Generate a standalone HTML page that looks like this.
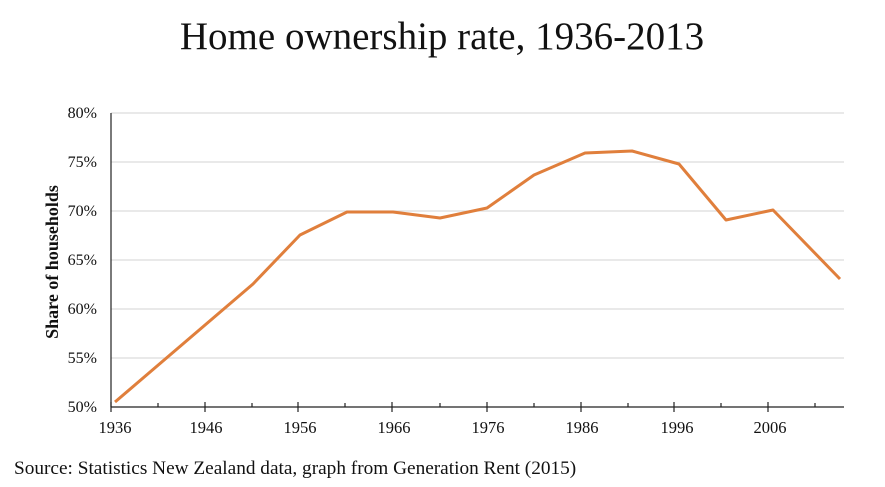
<!DOCTYPE html>
<html><head><meta charset="utf-8"><style>
body{margin:0;background:#fff;}
svg{display:block;font-family:"Liberation Serif",serif;}
</style></head><body>
<svg width="885" height="487" viewBox="0 0 885 487">
<text x="442" y="49" font-size="39" text-anchor="middle" fill="#111">Home ownership rate, 1936-2013</text>
<g stroke="#dcdcdc" stroke-width="1.3">
<line x1="111" x2="844" y1="113" y2="113"/>
<line x1="111" x2="844" y1="162" y2="162"/>
<line x1="111" x2="844" y1="211" y2="211"/>
<line x1="111" x2="844" y1="260" y2="260"/>
<line x1="111" x2="844" y1="309" y2="309"/>
<line x1="111" x2="844" y1="358" y2="358"/>
</g>
<g stroke="#222" stroke-width="1.2">
<line x1="111" x2="111" y1="113" y2="407"/>
<line x1="111" x2="844" y1="407" y2="407"/>
<line x1="111" x2="111" y1="402" y2="412"/>
<line x1="205" x2="205" y1="402" y2="412"/>
<line x1="298" x2="298" y1="402" y2="412"/>
<line x1="392" x2="392" y1="402" y2="412"/>
<line x1="487" x2="487" y1="402" y2="412"/>
<line x1="581" x2="581" y1="402" y2="412"/>
<line x1="674" x2="674" y1="402" y2="412"/>
<line x1="768" x2="768" y1="402" y2="412"/>
<line x1="158" x2="158" y1="403" y2="407"/>
<line x1="252" x2="252" y1="403" y2="407"/>
<line x1="345" x2="345" y1="403" y2="407"/>
<line x1="440" x2="440" y1="403" y2="407"/>
<line x1="534" x2="534" y1="403" y2="407"/>
<line x1="628" x2="628" y1="403" y2="407"/>
<line x1="721" x2="721" y1="403" y2="407"/>
<line x1="815" x2="815" y1="403" y2="407"/>
</g>
<g font-size="16" fill="#111" text-anchor="end">
<text x="97" y="118">80%</text>
<text x="97" y="167">75%</text>
<text x="97" y="216">70%</text>
<text x="97" y="265">65%</text>
<text x="97" y="314">60%</text>
<text x="97" y="363">55%</text>
<text x="97" y="412">50%</text>
</g>
<g font-size="16.5" fill="#111" text-anchor="middle">
<text x="115" y="433">1936</text>
<text x="206" y="433">1946</text>
<text x="300" y="433">1956</text>
<text x="394" y="433">1966</text>
<text x="488" y="433">1976</text>
<text x="582" y="433">1986</text>
<text x="677" y="433">1996</text>
<text x="770" y="433">2006</text>
</g>
<text transform="translate(58,262) rotate(-90)" font-size="18" font-weight="bold" text-anchor="middle" fill="#111">Share of households</text>
<polyline fill="none" stroke="#e07f3c" stroke-width="3" stroke-linejoin="round" points="115,402 253,284 300,235 347,212 393,212 440,218 487,208 534,175 585,153 632,151 679,164 726,220 773,210 840,279"/>
<text x="14" y="474" font-size="19.3" fill="#111">Source: Statistics New Zealand data, graph from Generation Rent (2015)</text>
</svg>
</body></html>
